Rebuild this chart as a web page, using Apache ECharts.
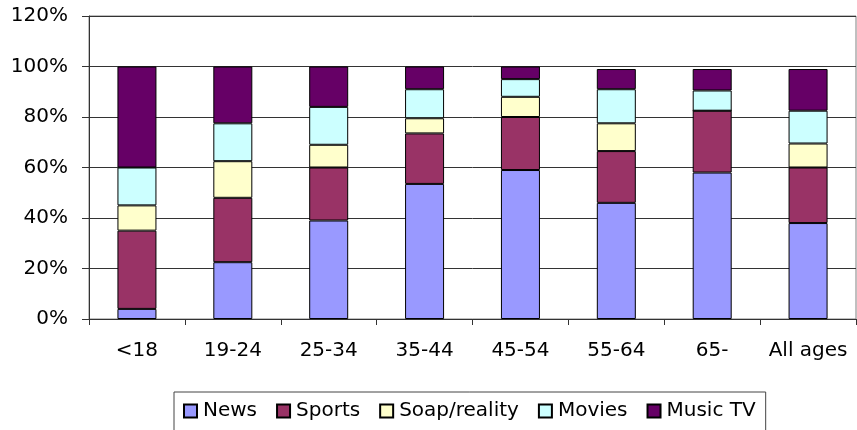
<!DOCTYPE html>
<html>
<head>
<meta charset="utf-8">
<script src="https://cdn.jsdelivr.net/npm/echarts@6/dist/echarts.min.js"></script>
<style>html,body{margin:0;padding:0;background:#fff;}#c{width:857px;height:430px;}</style>
</head>
<body>
<div id="c"></div>
<script>
var categories = ['<18', '19-24', '25-34', '35-44', '45-54', '55-64', '65-', 'All ages'];
var seriesNames = ['News', 'Sports', 'Soap/reality', 'Movies', 'Music TV'];
var news   = [4, 22.5, 39, 53.5, 59, 46, 58, 38];
var sports = [31, 25.5, 21, 20, 21, 20.5, 24.5, 22];
var soap   = [10, 14.5, 9, 6, 8, 11, 0, 9.5];
var movies = [15, 15, 15, 11.5, 7, 13.5, 8, 13];
var music  = [40, 22.5, 16, 9, 5, 8, 8.5, 16.5];
var yTicks = [0, 20, 40, 60, 80, 100, 120];

var colors = ['#9999FF', '#993366', '#FFFFCC', '#CCFFFF', '#660066'];
var values = [news, sports, soap, movies, music];
var font = '"DejaVu Sans", "Liberation Sans", Arial, sans-serif';

var chart = echarts.init(document.getElementById('c'), null, {renderer: 'canvas'});
chart.setOption({
  animation: false,
  backgroundColor: '#fff',
  grid: {left: 89, right: 1, top: 16, bottom: 111, show: true, borderColor: '#808080', borderWidth: 1},
  legend: {
    left: 174, top: 392,
    padding: [9, 10, 14, 9],
    backgroundColor: '#fff',
    borderColor: '#444', borderWidth: 1,
    itemWidth: 13, itemHeight: 13, itemGap: 19,
    icon: 'rect',
    textStyle: {fontFamily: font, fontSize: 20, color: '#000', padding: [0, 0, 0, 1]},
    data: seriesNames
  },
  xAxis: {
    type: 'category', data: categories,
    axisLine: {lineStyle: {color: '#333', width: 1}},
    axisTick: {show: true, length: 6, alignWithLabel: false, lineStyle: {color: '#333'}},
    axisLabel: {fontFamily: font, fontSize: 20, color: '#000', margin: 22, interval: 0}
  },
  yAxis: {
    type: 'value', min: yTicks[0], max: yTicks[yTicks.length - 1], interval: 20,
    axisLine: {show: true, lineStyle: {color: '#333', width: 1}},
    axisTick: {show: true, length: 7, lineStyle: {color: '#333'}},
    splitLine: {show: true, lineStyle: {color: '#333', width: 1}},
    axisLabel: {fontFamily: font, fontSize: 20, color: '#000', margin: 21, formatter: '{value}%'}
  },
  series: seriesNames.map(function (name, i) {
    return {
      name: name, type: 'bar', stack: 'total', barWidth: 39,
      itemStyle: {color: colors[i], borderColor: '#000', borderWidth: 1},
      data: values[i]
    };
  })
});
</script>
</body>
</html>
